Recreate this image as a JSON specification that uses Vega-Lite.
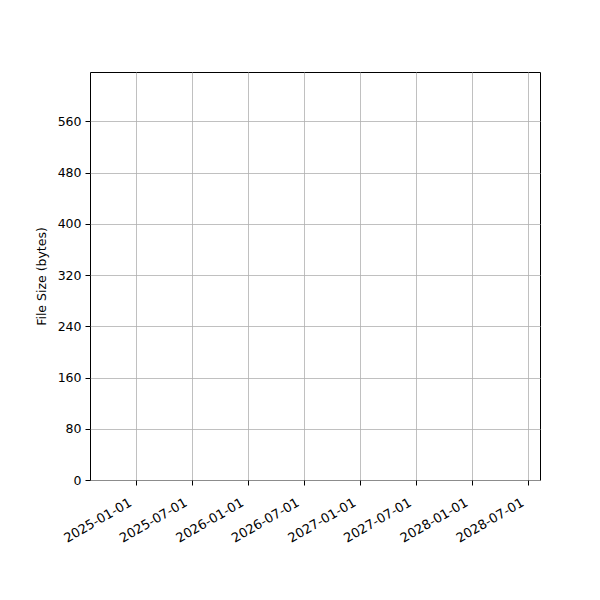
{
  "$schema": "https://vega.github.io/schema/vega-lite/v6.json",
  "width": 450,
  "height": 408,
  "autosize": {"type": "none"},
  "padding": {"left": 90, "top": 72, "right": 60, "bottom": 120},
  "background": "white",
  "data": {"values": []},
  "mark": {"type": "point"},
  "encoding": {
    "x": {
      "field": "date",
      "type": "temporal",
      "scale": {
        "domain": [
          {"year": 2024, "month": 8, "date": 4},
          {"year": 2028, "month": 8, "date": 8}
        ],
        "nice": false
      },
      "axis": {
        "title": null,
        "format": "%Y-%m-%d",
        "values": [
          {"year": 2025, "month": 1, "date": 1},
          {"year": 2025, "month": 7, "date": 1},
          {"year": 2026, "month": 1, "date": 1},
          {"year": 2026, "month": 7, "date": 1},
          {"year": 2027, "month": 1, "date": 1},
          {"year": 2027, "month": 7, "date": 1},
          {"year": 2028, "month": 1, "date": 1},
          {"year": 2028, "month": 7, "date": 1}
        ],
        "labelAngle": -30,
        "labelAlign": "right",
        "labelBaseline": "top",
        "labelFontSize": 13,
        "labelOffset": -9,
        "labelPadding": 11
      }
    },
    "y": {
      "field": "size",
      "type": "quantitative",
      "scale": {"domain": [0, 637], "nice": false, "zero": true},
      "axis": {
        "title": "File Size (bytes)",
        "values": [0, 80, 160, 240, 320, 400, 480, 560],
        "titlePadding": 9,
        "labelPadding": 4
      }
    }
  },
  "config": {
    "font": "DejaVu Sans",
    "view": {"stroke": "black", "strokeWidth": 1},
    "axis": {
      "domain": false,
      "grid": true,
      "gridColor": "#b0b0b0",
      "gridWidth": 0.8,
      "gridOpacity": 1,
      "ticks": true,
      "tickColor": "black",
      "tickSize": 5,
      "tickWidth": 1,
      "labelFont": "DejaVu Sans",
      "labelFontSize": 12.5,
      "labelColor": "black",
      "labelFlush": false,
      "labelOverlap": false,
      "titleFont": "DejaVu Sans",
      "titleFontSize": 12.5,
      "titleFontWeight": "normal",
      "titleColor": "black"
    }
  }
}
